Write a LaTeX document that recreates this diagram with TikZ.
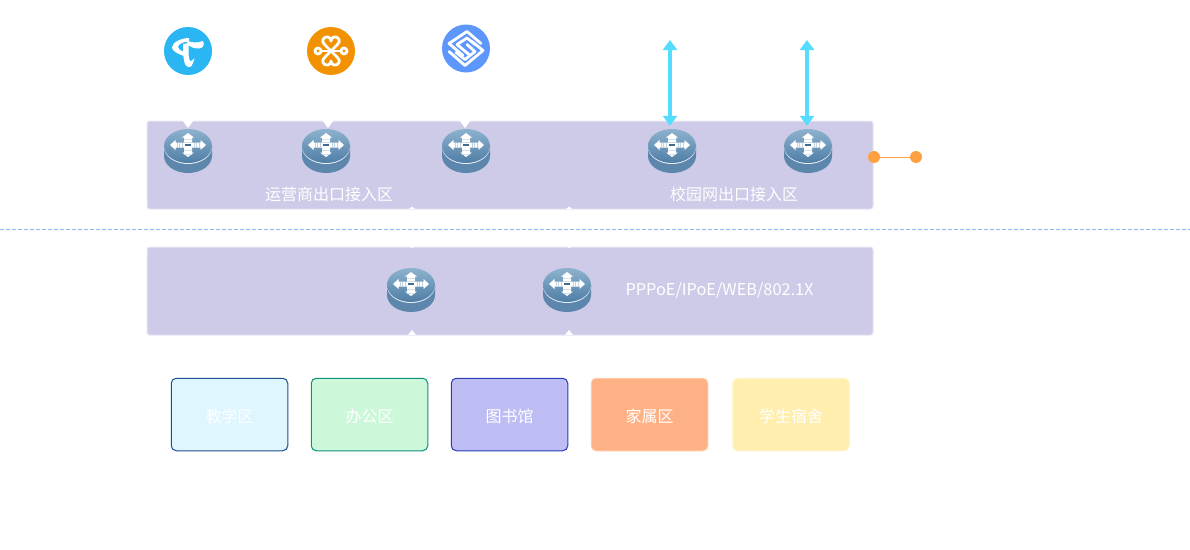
\documentclass[tikz,border=0pt]{standalone}
\usepackage{fontspec}
\setmainfont{Noto Sans CJK SC}
\usetikzlibrary{arrows.meta, positioning}
\definecolor{bandfill}{HTML}{CDCBE7}
\definecolor{bandline}{HTML}{E8E7F5}
\definecolor{linkcyan}{HTML}{55DCFF}
\definecolor{dotorange}{HTML}{FFA140}
\definecolor{routertop}{HTML}{8DB2CE}
\definecolor{routermid}{HTML}{4F7EA6}
\definecolor{routerside}{HTML}{5C86AC}
\definecolor{sepblue}{HTML}{8DB6F2}
\definecolor{teachfill}{HTML}{DFF6FF}
\definecolor{teachline}{HTML}{1D4E8F}
\definecolor{officefill}{HTML}{CCF8D9}
\definecolor{officeline}{HTML}{0E9079}
\definecolor{libfill}{HTML}{BDBCF3}
\definecolor{libline}{HTML}{2B3DB5}
\definecolor{homefill}{HTML}{FFB186}
\definecolor{homeline}{HTML}{FFC9A6}
\definecolor{dormfill}{HTML}{FFEEAE}
\definecolor{dormline}{HTML}{FFF4CB}
\definecolor{telecom}{HTML}{29B6F2}
\definecolor{unicom}{HTML}{F39200}
\definecolor{mobile}{HTML}{5E97FB}
\tikzset{
  band/.style={draw=bandline, line width=1pt, fill=bandfill, rounded corners=2.5pt, minimum width=726pt, minimum height=88pt, inner sep=0pt},
  zone/.style={rounded corners=5pt, line width=1pt, minimum width=116.5pt, minimum height=72.5pt, inner sep=0pt, text=white, text height=16pt, text depth=1pt, font=\fontsize{16}{16}\selectfont},
  bandtext/.style={text=white, inner sep=0pt, font=\fontsize{16}{16}\selectfont},
  routerbase/.style={minimum width=48pt, minimum height=44pt, inner sep=0pt},
  dot/.style={circle, fill=dotorange, minimum size=12pt, inner sep=0pt},
  logo/.style={circle, minimum size=48pt, inner sep=0pt},
  link/.style={linkcyan, line width=3.5pt, {Triangle[width=14pt,length=10pt]}-{Triangle[width=14pt,length=10pt]}},
  notch/.style={fill=white, draw=none},
  glyph/.style={white, line width=2.8pt, line cap=round, line join=round},
  router/.pic={
    \fill[routerside] (-24,-5) -- (-24,5) arc[start angle=180, end angle=0, x radius=24, y radius=17] -- (24,-5) -- cycle;
    \fill[white!65!bandfill] (0,-4) ellipse[x radius=24, y radius=17];
    \shade[top color=routertop, bottom color=routermid] (0,-5) ellipse[x radius=24, y radius=17];
    \fill[white] (0,-18) -- (6,-13.5) -- (4,-13.5) -- (4,1.5) -- (6,1.5) -- (0,6) -- (-6,1.5) -- (-4,1.5) -- (-4,-13.5) -- (-6,-13.5) -- cycle;
    \fill[white] (-18,-6) -- (-12.5,-11) -- (-12.5,-8.5) -- (12.5,-8.5) -- (12.5,-11) -- (18,-6) -- (12.5,-1) -- (12.5,-3.5) -- (-12.5,-3.5) -- (-12.5,-1) -- cycle;
    \foreach \s in {-11,-8.5,-6,6,8.5,11} {
      \draw[routermid!35!white, line width=.5pt] (\s,-8.5) -- (\s,-3.5);
    }
    \foreach \s in {-11.5,-9,3,-.5} {
      \draw[routermid!25!white, line width=.4pt] (-4,\s) -- (4,\s);
    }
    \fill[routermid!85!black] (-2.6,-7.4) rectangle (2.6,-4.6);
  }
}
\begin{document}
\begin{tikzpicture}[x=1pt, y=-1pt]
  \useasboundingbox[fill=white] (0,0) rectangle (1190,549);

  % bands
  \node[band] (topband) at (510,165) {};
  \node[band] (lowband) at (510,291) {};
  \coordinate (sepl) at (0,229.5);
  \coordinate (sepr) at (1190,229.5);
  \draw[sepblue, dash pattern=on 4pt off 2pt, line width=.8pt] (sepl) -- (sepr);

  % notches of the bands
  \foreach \x in {188,328,465} {
    \fill[notch] (\x-6,120) -- (\x+6,120) -- (\x,128) -- cycle;
  }
  \foreach \x in {412,569} {
    \fill[notch] (\x-3,209) -- (\x+3,209) -- (\x,206.5) -- cycle;
    \fill[notch] (\x-3,246) -- (\x+3,246) -- (\x,248) -- cycle;
    \fill[notch] (\x-4,335) -- (\x+4,335) -- (\x,330) -- cycle;
  }

  % routers
  \foreach \name/\x/\y in {rta/188/151, rtb/326/151, rtc/466/151, rtd/672/151, rte/808/151, rtf/411/290, rtg/567/290} {
    \node[routerbase] (\name) at (\x,\y) {};
    \pic at (\x,\y) {router};
  }

  % band texts
  \node[bandtext] (carrier) at (329,194) {运营商出口接入区};
  \node[bandtext] (campus) at (734,194) {校园网出口接入区};
  \node[bandtext, font=\fontsize{16.3}{16}\selectfont] (auth) at (719.5,290.5) {PPPoE/IPoE/WEB/802.1X};

  % uplinks
  \coordinate (upa) at (670,40);
  \coordinate (upb) at (807,40);
  \draw[link, shorten >=3pt] (upa) -- (upa |- rtd.north);
  \draw[link, shorten >=3pt] (upb) -- (upb |- rte.north);

  % orange link
  \node[dot] (dota) at (874,157) {};
  \node[dot] (dotb) at (916,157) {};
  \draw[dotorange, line width=1pt] (dota) -- (dotb);

  % access zones
  \node[zone, fill=teachfill, draw=teachline] (teach) at (229.5,414.5) {教学区};
  \node[zone, fill=officefill, draw=officeline] (office) at (369.5,414.5) {办公区};
  \node[zone, fill=libfill, draw=libline] (library) at (509.5,414.5) {图书馆};
  \node[zone, fill=homefill, draw=homeline] (home) at (649.5,414.5) {家属区};
  \node[zone, fill=dormfill, draw=dormline] (dorm) at (791,414.5) {学生宿舍};

  % carrier logos
  \node[logo, fill=telecom] (ct) at (188,51) {};
  \begin{scope}[shift={(ct.center)}]
    \fill[white] (1,-13) .. controls (-6,-13) and (-16,-9) .. (-16,-3.5) .. controls (-16,0) and (-10,3) .. (-4,5) -- (-4,1) .. controls (-8,-1) and (-10,-2) .. (-10,-4) .. controls (-10,-7) and (-4,-9.5) .. (1,-9.5) -- cycle;
    \fill[white] (-1,-10) .. controls (3,-9) and (7,-8) .. (11,-9) -- (15,-10) .. controls (17,-6) and (15,-3) .. (11,-2.5) .. controls (7,-2) and (3,-4) .. (0,-6) -- cycle;
    \fill[white] (-5,-7) .. controls (-5,-2) and (-5,8) .. (-3,13) .. controls (-1,17) and (3,17) .. (4,14) .. controls (5,12) and (6,10) .. (6.5,7) .. controls (5,9) and (3,11) .. (2,10) .. controls (0.5,8) and (0,-2) .. (1,-8) -- cycle;
  \end{scope}
  \node[logo, fill=unicom] (cu) at (331,51) {};
  \begin{scope}[shift={(cu.center)}]
    \draw[glyph] (-6,-6) -- (6,6) (6,-6) -- (-6,6);
    \draw[glyph] (-6,-6) .. controls (-11,-10) and (-7,-15) .. (-3,-14) .. controls (-1,-13.5) and (0,-12) .. (0,-10) .. controls (0,-12) and (1,-13.5) .. (3,-14) .. controls (7,-15) and (11,-10) .. (6,-6);
    \draw[glyph] (-6,6) .. controls (-11,10) and (-7,15) .. (-3,14) .. controls (-1,13.5) and (0,12) .. (0,10) .. controls (0,12) and (1,13.5) .. (3,14) .. controls (7,15) and (11,10) .. (6,6);
    \draw[glyph] (-10,0) -- (10,0);
    \draw[glyph] (-13,0) circle[radius=3] (13,0) circle[radius=3];
  \end{scope}
  \node[logo, fill=mobile] (cm) at (466,48.5) {};
  \begin{scope}[shift={(cm.center)}]
    \draw[glyph] (15,-5) -- (1,-17) -- (-17,-5) -- (-3,7);
    \draw[glyph] (9,-4) -- (1,-10.5) -- (-9,-4) -- (3,6);
    \draw[glyph] (-17,3) -- (-1,17) -- (17,2) -- (6,-7);
    \draw[glyph] (-10,4) -- (-1,11) -- (9,3) -- (1,-4);
  \end{scope}
\end{tikzpicture}
\end{document}
